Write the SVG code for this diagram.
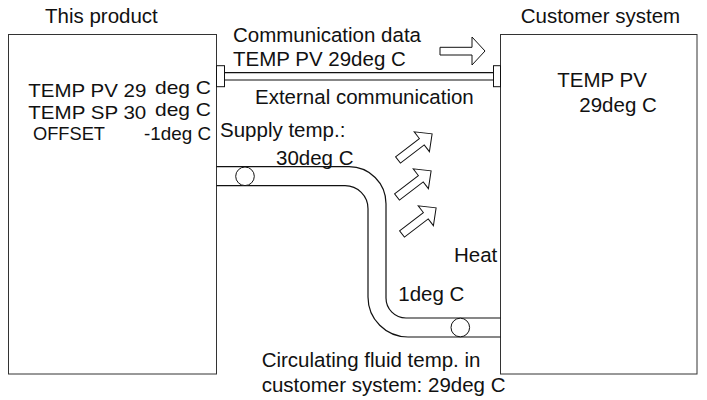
<svg xmlns="http://www.w3.org/2000/svg" width="707" height="400" viewBox="0 0 707 400">
<style>
text{font-family:"Liberation Sans",Arial,sans-serif;font-size:20.5px;fill:#111}
.box{fill:#fff;stroke:#333;stroke-width:1}
.ln{fill:none;stroke:#111;stroke-width:1.2}
.hollow{fill:#fff;stroke:#111;stroke-width:1}
.sm{font-size:19px}
</style>
<defs>
<polygon id="heatArrow" class="hollow" points="0,-4 30,-4 30,-12.5 43,0 30,12.5 30,4 0,4"/>
</defs>
<rect width="707" height="400" fill="#fff"/>
<g id="product">
<rect class="box" x="8.5" y="34.5" width="208" height="339.5"/>
<text x="45" y="23" font-size="21">This product</text>
<text class="sm" x="28.3" y="97" textLength="118" lengthAdjust="spacingAndGlyphs">TEMP PV 29</text>
<text class="sm" x="155" y="94" textLength="56" lengthAdjust="spacingAndGlyphs">deg C</text>
<text class="sm" x="28.3" y="118.5" textLength="118" lengthAdjust="spacingAndGlyphs">TEMP SP 30</text>
<text class="sm" x="155" y="115.5" textLength="56" lengthAdjust="spacingAndGlyphs">deg C</text>
<text class="sm" x="33" y="139.5" textLength="72" lengthAdjust="spacingAndGlyphs">OFFSET</text>
<text class="sm" x="144" y="139.5" textLength="67" lengthAdjust="spacingAndGlyphs">-1deg C</text>
</g>
<g id="customer">
<rect class="box" x="500.5" y="34.5" width="196.5" height="339.5"/>
<text x="520.7" y="22.7" font-size="21">Customer system</text>
<text x="557.3" y="87.3">TEMP PV</text>
<text x="579.3" y="111.7">29deg C</text>
</g>
<g id="connectors">
<g id="communication">
<rect class="hollow" x="216.5" y="65.7" width="8" height="21"/>
<rect class="hollow" x="493.5" y="65.7" width="7" height="21"/>
<line class="ln" x1="224.5" y1="72.7" x2="493.5" y2="72.7"/>
<line class="ln" x1="224.5" y1="80" x2="493.5" y2="80"/>
<polygon class="hollow" points="440,47.3 472,47.3 472,37 485,51 472,65 472,55 440,55"/>
</g>
<g id="pipe">
<path class="ln" d="M216.5,166.7 H349 A37,37 0 0 1 386,203.7 V298 A20,20 0 0 0 406,318 H500.5"/>
<path class="ln" d="M216.5,185.7 H345 A23,23 0 0 1 368,208.7 V297 A40,40 0 0 0 408,337 H500.5"/>
<circle class="hollow" cx="245" cy="176.3" r="9.3"/>
<circle class="hollow" cx="460.3" cy="327.5" r="9.3"/>
</g>
<g id="heat">
<use href="#heatArrow" transform="translate(398,160) rotate(-37.5)"/>
<use href="#heatArrow" transform="translate(397,197) rotate(-37.5)"/>
<use href="#heatArrow" transform="translate(402,234) rotate(-37.5)"/>
</g>
</g>
<g id="labels">
<text x="233" y="42" font-size="21">Communication data</text>
<text x="233" y="65.5" font-size="21">TEMP PV 29deg C</text>
<text x="255" y="103.5" font-size="21">External communication</text>
<text x="220" y="137" font-size="21">Supply temp.:</text>
<text x="276" y="165" font-size="21">30deg C</text>
<text x="454" y="261.7" font-size="21">Heat</text>
<text x="398.3" y="300.7" font-size="21">1deg C</text>
<text x="261.7" y="367" font-size="21">Circulating fluid temp. in</text>
<text x="261.7" y="392" font-size="21">customer system: 29deg C</text>
</g>
</svg>
